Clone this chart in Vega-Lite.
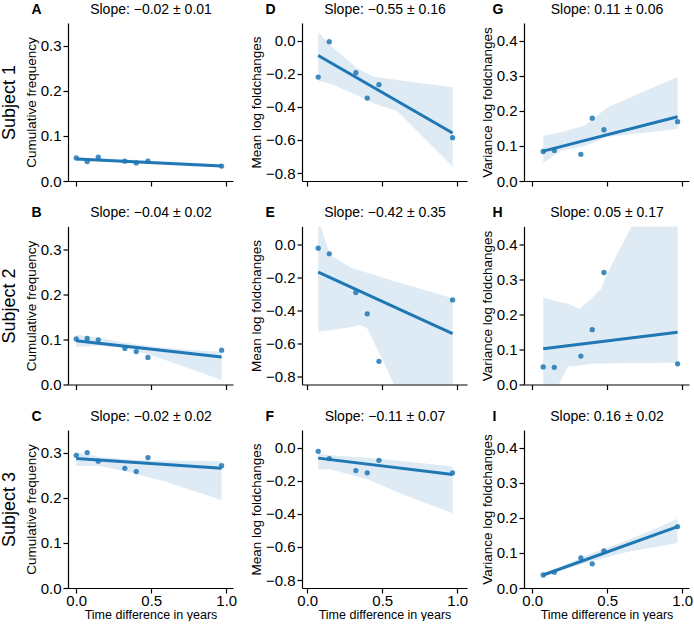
{
  "$schema": "https://vega.github.io/schema/vega-lite/v6.json",
  "padding": {"left": 0, "top": 2, "right": 0, "bottom": 0},
  "background": "white",
  "config": {
    "view": {"stroke": null},
    "font": "Liberation Sans",
    "axis": {"domainColor": "black", "domainWidth": 1.2, "tickColor": "black", "tickWidth": 1.2, "tickSize": 5, "labelFontSize": 15, "labelColor": "black", "labelPadding": 2, "titleFontSize": 12.5, "titleFontWeight": "normal", "titleColor": "black", "grid": false}
  },
  "datasets": {
    "pts": [
      {"p": "A", "x": 0, "y": 0.051}, {"p": "A", "x": 0.073, "y": 0.043}, {"p": "A", "x": 0.147, "y": 0.053}, {"p": "A", "x": 0.324, "y": 0.044}, {"p": "A", "x": 0.4, "y": 0.040}, {"p": "A", "x": 0.478, "y": 0.044}, {"p": "A", "x": 0.969, "y": 0.033},
      {"p": "B", "x": 0, "y": 0.101}, {"p": "B", "x": 0.073, "y": 0.102}, {"p": "B", "x": 0.147, "y": 0.099}, {"p": "B", "x": 0.324, "y": 0.080}, {"p": "B", "x": 0.4, "y": 0.073}, {"p": "B", "x": 0.478, "y": 0.060}, {"p": "B", "x": 0.969, "y": 0.076},
      {"p": "C", "x": 0, "y": 0.294}, {"p": "C", "x": 0.073, "y": 0.300}, {"p": "C", "x": 0.147, "y": 0.281}, {"p": "C", "x": 0.324, "y": 0.265}, {"p": "C", "x": 0.4, "y": 0.258}, {"p": "C", "x": 0.478, "y": 0.289}, {"p": "C", "x": 0.969, "y": 0.271},
      {"p": "D", "x": 0.073, "y": -0.220}, {"p": "D", "x": 0.147, "y": -0.006}, {"p": "D", "x": 0.324, "y": -0.193}, {"p": "D", "x": 0.4, "y": -0.347}, {"p": "D", "x": 0.478, "y": -0.266}, {"p": "D", "x": 0.969, "y": -0.586},
      {"p": "E", "x": 0.073, "y": -0.024}, {"p": "E", "x": 0.147, "y": -0.058}, {"p": "E", "x": 0.324, "y": -0.292}, {"p": "E", "x": 0.4, "y": -0.421}, {"p": "E", "x": 0.478, "y": -0.708}, {"p": "E", "x": 0.969, "y": -0.337},
      {"p": "F", "x": 0.073, "y": -0.022}, {"p": "F", "x": 0.147, "y": -0.066}, {"p": "F", "x": 0.324, "y": -0.138}, {"p": "F", "x": 0.4, "y": -0.152}, {"p": "F", "x": 0.478, "y": -0.076}, {"p": "F", "x": 0.969, "y": -0.152},
      {"p": "G", "x": 0.073, "y": 0.084}, {"p": "G", "x": 0.147, "y": 0.087}, {"p": "G", "x": 0.324, "y": 0.076}, {"p": "G", "x": 0.4, "y": 0.179}, {"p": "G", "x": 0.478, "y": 0.146}, {"p": "G", "x": 0.969, "y": 0.169},
      {"p": "H", "x": 0.073, "y": 0.050}, {"p": "H", "x": 0.147, "y": 0.049}, {"p": "H", "x": 0.324, "y": 0.081}, {"p": "H", "x": 0.4, "y": 0.156}, {"p": "H", "x": 0.478, "y": 0.319}, {"p": "H", "x": 0.969, "y": 0.059},
      {"p": "I", "x": 0.073, "y": 0.037}, {"p": "I", "x": 0.147, "y": 0.045}, {"p": "I", "x": 0.324, "y": 0.086}, {"p": "I", "x": 0.4, "y": 0.069}, {"p": "I", "x": 0.478, "y": 0.106}, {"p": "I", "x": 0.969, "y": 0.175}
    ],
    "line": [
      {"p": "A", "x": 0, "y": 0.049}, {"p": "A", "x": 0.969, "y": 0.033},
      {"p": "B", "x": 0, "y": 0.097}, {"p": "B", "x": 0.969, "y": 0.061},
      {"p": "C", "x": 0, "y": 0.287}, {"p": "C", "x": 0.969, "y": 0.265},
      {"p": "D", "x": 0.073, "y": -0.089}, {"p": "D", "x": 0.969, "y": -0.558},
      {"p": "E", "x": 0.073, "y": -0.169}, {"p": "E", "x": 0.969, "y": -0.540},
      {"p": "F", "x": 0.073, "y": -0.063}, {"p": "F", "x": 0.969, "y": -0.162},
      {"p": "G", "x": 0.073, "y": 0.085}, {"p": "G", "x": 0.969, "y": 0.183},
      {"p": "H", "x": 0.073, "y": 0.102}, {"p": "H", "x": 0.969, "y": 0.149},
      {"p": "I", "x": 0.073, "y": 0.037}, {"p": "I", "x": 0.969, "y": 0.175}
    ],
    "band": [
      {"p": "A", "x": 0, "lo": 0.046, "hi": 0.053}, {"p": "A", "x": 0.5, "lo": 0.040, "hi": 0.045}, {"p": "A", "x": 0.969, "lo": 0.030, "hi": 0.037},
      {"p": "B", "x": 0, "lo": 0.083, "hi": 0.110}, {"p": "B", "x": 0.156, "lo": 0.086, "hi": 0.103}, {"p": "B", "x": 0.333, "lo": 0.080, "hi": 0.092}, {"p": "B", "x": 0.489, "lo": 0.066, "hi": 0.085}, {"p": "B", "x": 0.7, "lo": 0.042, "hi": 0.078}, {"p": "B", "x": 0.969, "lo": 0.010, "hi": 0.072},
      {"p": "C", "x": 0, "lo": 0.270, "hi": 0.301}, {"p": "C", "x": 0.156, "lo": 0.270, "hi": 0.290}, {"p": "C", "x": 0.378, "lo": 0.255, "hi": 0.284}, {"p": "C", "x": 0.6, "lo": 0.235, "hi": 0.282}, {"p": "C", "x": 0.969, "lo": 0.195, "hi": 0.281},
      {"p": "D", "x": 0.073, "lo": -0.242, "hi": 0.052}, {"p": "D", "x": 0.175, "lo": -0.266, "hi": -0.044}, {"p": "D", "x": 0.33, "lo": -0.33, "hi": -0.165}, {"p": "D", "x": 0.444, "lo": -0.38, "hi": -0.218}, {"p": "D", "x": 0.6, "lo": -0.427, "hi": -0.237}, {"p": "D", "x": 0.969, "lo": -0.76, "hi": -0.282},
      {"p": "E", "x": 0.073, "lo": -0.528, "hi": 0.15}, {"p": "E", "x": 0.152, "lo": -0.52, "hi": -0.065}, {"p": "E", "x": 0.298, "lo": -0.50, "hi": -0.145}, {"p": "E", "x": 0.354, "lo": -0.488, "hi": -0.16}, {"p": "E", "x": 0.40, "lo": -0.51, "hi": -0.172}, {"p": "E", "x": 0.534, "lo": -0.76, "hi": -0.21}, {"p": "E", "x": 0.578, "lo": -0.85, "hi": -0.222}, {"p": "E", "x": 0.969, "lo": -1.5, "hi": -0.327},
      {"p": "F", "x": 0.073, "lo": -0.134, "hi": -0.034}, {"p": "F", "x": 0.153, "lo": -0.13, "hi": -0.045}, {"p": "F", "x": 0.40, "lo": -0.19, "hi": -0.06}, {"p": "F", "x": 0.63, "lo": -0.28, "hi": -0.08}, {"p": "F", "x": 0.969, "lo": -0.396, "hi": -0.114},
      {"p": "G", "x": 0.073, "lo": 0.051, "hi": 0.129}, {"p": "G", "x": 0.193, "lo": 0.086, "hi": 0.139}, {"p": "G", "x": 0.349, "lo": 0.10, "hi": 0.158}, {"p": "G", "x": 0.504, "lo": 0.126, "hi": 0.21}, {"p": "G", "x": 0.969, "lo": 0.148, "hi": 0.297},
      {"p": "H", "x": 0.073, "lo": -0.15, "hi": 0.248}, {"p": "H", "x": 0.17, "lo": -0.005, "hi": 0.236}, {"p": "H", "x": 0.238, "lo": 0.051, "hi": 0.23}, {"p": "H", "x": 0.316, "lo": 0.054, "hi": 0.216}, {"p": "H", "x": 0.393, "lo": 0.059, "hi": 0.244}, {"p": "H", "x": 0.46, "lo": 0.06, "hi": 0.273}, {"p": "H", "x": 0.504, "lo": 0.06, "hi": 0.32}, {"p": "H", "x": 0.66, "lo": 0.061, "hi": 0.449}, {"p": "H", "x": 0.969, "lo": 0.062, "hi": 0.75},
      {"p": "I", "x": 0.073, "lo": 0.031, "hi": 0.043}, {"p": "I", "x": 0.2, "lo": 0.052, "hi": 0.062}, {"p": "I", "x": 0.4, "lo": 0.076, "hi": 0.100}, {"p": "I", "x": 0.6, "lo": 0.10, "hi": 0.13}, {"p": "I", "x": 0.8, "lo": 0.115, "hi": 0.165}, {"p": "I", "x": 0.969, "lo": 0.128, "hi": 0.197}
    ]
  },
  "columns": 3,
  "align": "each",
  "spacing": {"row": 16.5, "column": 12},
  "concat": [
    {
      "width": 165, "height": 158,
      "resolve": {"axis": {"x": "independent", "y": "independent"}},
      "layer": [
        {"data": {"name": "band"}, "transform": [{"filter": "datum.p == 'A'"}],
         "mark": {"type": "area", "color": "#1f77b4", "opacity": 0.15, "clip": true},
         "encoding": {
           "x": {"field": "x", "type": "quantitative", "scale": {"domain": [-0.055, 1.045], "nice": false}, "axis": {"orient": "top", "title": "A", "domain": false, "ticks": false, "labels": false, "titleFontWeight": "bold", "titleFontSize": 14, "titleX": -37, "titleY": -10, "titleAlign": "left", "titleBaseline": "alphabetic", "titleAngle": 0}},
           "y": {"field": "lo", "type": "quantitative", "scale": {"domain": [0, 0.35], "nice": false}, "axis": {"orient": "left", "title": "Cumulative frequency", "values": [0, 0.1, 0.2, 0.3], "format": ".1f", "titlePadding": 2, "titleFontSize": 13.5}},
           "y2": {"field": "hi"}}},
        {"data": {"name": "line"}, "transform": [{"filter": "datum.p == 'A'"}],
         "mark": {"type": "line", "color": "#1f77b4", "strokeWidth": 3},
         "encoding": {
           "x": {"field": "x", "type": "quantitative", "axis": {"orient": "top", "title": "Slope: −0.02 ± 0.01", "domain": false, "ticks": false, "labels": false, "titleFontSize": 14, "titleX": 82.5, "titleY": -10, "titleAlign": "center", "titleBaseline": "alphabetic", "titleAngle": 0}},
           "y": {"field": "y", "type": "quantitative", "axis": {"orient": "left", "title": "Subject 1", "domain": false, "ticks": false, "labels": false, "titleFontSize": 18, "titleX": -54, "titleY": 79, "titleAngle": -90, "titleAlign": "center", "titleBaseline": "alphabetic"}}}},
        {"data": {"name": "pts"}, "transform": [{"filter": "datum.p == 'A'"}],
         "mark": {"type": "circle", "color": "#1f77b4", "opacity": 0.85, "size": 28},
         "encoding": {
           "x": {"field": "x", "type": "quantitative", "axis": {"orient": "bottom", "values": [0, 0.5, 1], "labels": false, "title": null}},
           "y": {"field": "y", "type": "quantitative", "axis": null}}}
      ]
    },
    {
      "width": 165, "height": 158,
      "resolve": {"axis": {"x": "independent", "y": "independent"}},
      "layer": [
        {"data": {"name": "band"}, "transform": [{"filter": "datum.p == 'D'"}],
         "mark": {"type": "area", "color": "#1f77b4", "opacity": 0.15, "clip": true},
         "encoding": {
           "x": {"field": "x", "type": "quantitative", "scale": {"domain": [-0.035, 1.065], "nice": false}, "axis": {"orient": "top", "title": "D", "domain": false, "ticks": false, "labels": false, "titleFontWeight": "bold", "titleFontSize": 14, "titleX": -37, "titleY": -10, "titleAlign": "left", "titleBaseline": "alphabetic", "titleAngle": 0}},
           "y": {"field": "lo", "type": "quantitative", "scale": {"domain": [-0.848, 0.107], "nice": false}, "axis": {"orient": "left", "title": "Mean log foldchanges", "values": [-0.8, -0.6, -0.4, -0.2, 0], "format": ".1f", "titlePadding": 2, "titleFontSize": 13.5}},
           "y2": {"field": "hi"}}},
        {"data": {"name": "line"}, "transform": [{"filter": "datum.p == 'D'"}],
         "mark": {"type": "line", "color": "#1f77b4", "strokeWidth": 3},
         "encoding": {
           "x": {"field": "x", "type": "quantitative", "axis": {"orient": "top", "title": "Slope: −0.55 ± 0.16", "domain": false, "ticks": false, "labels": false, "titleFontSize": 14, "titleX": 82.5, "titleY": -10, "titleAlign": "center", "titleBaseline": "alphabetic", "titleAngle": 0}},
           "y": {"field": "y", "type": "quantitative", "axis": null}}},
        {"data": {"name": "pts"}, "transform": [{"filter": "datum.p == 'D'"}],
         "mark": {"type": "circle", "color": "#1f77b4", "opacity": 0.85, "size": 28},
         "encoding": {
           "x": {"field": "x", "type": "quantitative", "axis": {"orient": "bottom", "values": [0, 0.5, 1], "labels": false, "title": null}},
           "y": {"field": "y", "type": "quantitative", "axis": null}}}
      ]
    },
    {
      "width": 165, "height": 158,
      "resolve": {"axis": {"x": "independent", "y": "independent"}},
      "layer": [
        {"data": {"name": "band"}, "transform": [{"filter": "datum.p == 'G'"}],
         "mark": {"type": "area", "color": "#1f77b4", "opacity": 0.15, "clip": true},
         "encoding": {
           "x": {"field": "x", "type": "quantitative", "scale": {"domain": [-0.055, 1.045], "nice": false}, "axis": {"orient": "top", "title": "G", "domain": false, "ticks": false, "labels": false, "titleFontWeight": "bold", "titleFontSize": 14, "titleX": -32, "titleY": -10, "titleAlign": "left", "titleBaseline": "alphabetic", "titleAngle": 0}},
           "y": {"field": "lo", "type": "quantitative", "scale": {"domain": [0, 0.45], "nice": false}, "axis": {"orient": "left", "title": "Variance log foldchanges", "values": [0, 0.1, 0.2, 0.3, 0.4], "format": ".1f", "titlePadding": 2, "titleFontSize": 13.5}},
           "y2": {"field": "hi"}}},
        {"data": {"name": "line"}, "transform": [{"filter": "datum.p == 'G'"}],
         "mark": {"type": "line", "color": "#1f77b4", "strokeWidth": 3},
         "encoding": {
           "x": {"field": "x", "type": "quantitative", "axis": {"orient": "top", "title": "Slope: 0.11 ± 0.06", "domain": false, "ticks": false, "labels": false, "titleFontSize": 14, "titleX": 82.5, "titleY": -10, "titleAlign": "center", "titleBaseline": "alphabetic", "titleAngle": 0}},
           "y": {"field": "y", "type": "quantitative", "axis": null}}},
        {"data": {"name": "pts"}, "transform": [{"filter": "datum.p == 'G'"}],
         "mark": {"type": "circle", "color": "#1f77b4", "opacity": 0.85, "size": 28},
         "encoding": {
           "x": {"field": "x", "type": "quantitative", "axis": {"orient": "bottom", "values": [0, 0.5, 1], "labels": false, "title": null}},
           "y": {"field": "y", "type": "quantitative", "axis": null}}}
      ]
    },
    {
      "width": 165, "height": 158,
      "resolve": {"axis": {"x": "independent", "y": "independent"}},
      "layer": [
        {"data": {"name": "band"}, "transform": [{"filter": "datum.p == 'B'"}],
         "mark": {"type": "area", "color": "#1f77b4", "opacity": 0.15, "clip": true},
         "encoding": {
           "x": {"field": "x", "type": "quantitative", "scale": {"domain": [-0.055, 1.045], "nice": false}, "axis": {"orient": "top", "title": "B", "domain": false, "ticks": false, "labels": false, "titleFontWeight": "bold", "titleFontSize": 14, "titleX": -37, "titleY": -10, "titleAlign": "left", "titleBaseline": "alphabetic", "titleAngle": 0}},
           "y": {"field": "lo", "type": "quantitative", "scale": {"domain": [0, 0.35], "nice": false}, "axis": {"orient": "left", "title": "Cumulative frequency", "values": [0, 0.1, 0.2, 0.3], "format": ".1f", "titlePadding": 2, "titleFontSize": 13.5}},
           "y2": {"field": "hi"}}},
        {"data": {"name": "line"}, "transform": [{"filter": "datum.p == 'B'"}],
         "mark": {"type": "line", "color": "#1f77b4", "strokeWidth": 3},
         "encoding": {
           "x": {"field": "x", "type": "quantitative", "axis": {"orient": "top", "title": "Slope: −0.04 ± 0.02", "domain": false, "ticks": false, "labels": false, "titleFontSize": 14, "titleX": 82.5, "titleY": -10, "titleAlign": "center", "titleBaseline": "alphabetic", "titleAngle": 0}},
           "y": {"field": "y", "type": "quantitative", "axis": {"orient": "left", "title": "Subject 2", "domain": false, "ticks": false, "labels": false, "titleFontSize": 18, "titleX": -54, "titleY": 79, "titleAngle": -90, "titleAlign": "center", "titleBaseline": "alphabetic"}}}},
        {"data": {"name": "pts"}, "transform": [{"filter": "datum.p == 'B'"}],
         "mark": {"type": "circle", "color": "#1f77b4", "opacity": 0.85, "size": 28},
         "encoding": {
           "x": {"field": "x", "type": "quantitative", "axis": {"orient": "bottom", "values": [0, 0.5, 1], "labels": false, "title": null}},
           "y": {"field": "y", "type": "quantitative", "axis": null}}}
      ]
    },
    {
      "width": 165, "height": 158,
      "resolve": {"axis": {"x": "independent", "y": "independent"}},
      "layer": [
        {"data": {"name": "band"}, "transform": [{"filter": "datum.p == 'E'"}],
         "mark": {"type": "area", "color": "#1f77b4", "opacity": 0.15, "clip": true},
         "encoding": {
           "x": {"field": "x", "type": "quantitative", "scale": {"domain": [-0.035, 1.065], "nice": false}, "axis": {"orient": "top", "title": "E", "domain": false, "ticks": false, "labels": false, "titleFontWeight": "bold", "titleFontSize": 14, "titleX": -37, "titleY": -10, "titleAlign": "left", "titleBaseline": "alphabetic", "titleAngle": 0}},
           "y": {"field": "lo", "type": "quantitative", "scale": {"domain": [-0.848, 0.107], "nice": false}, "axis": {"orient": "left", "title": "Mean log foldchanges", "values": [-0.8, -0.6, -0.4, -0.2, 0], "format": ".1f", "titlePadding": 2, "titleFontSize": 13.5}},
           "y2": {"field": "hi"}}},
        {"data": {"name": "line"}, "transform": [{"filter": "datum.p == 'E'"}],
         "mark": {"type": "line", "color": "#1f77b4", "strokeWidth": 3},
         "encoding": {
           "x": {"field": "x", "type": "quantitative", "axis": {"orient": "top", "title": "Slope: −0.42 ± 0.35", "domain": false, "ticks": false, "labels": false, "titleFontSize": 14, "titleX": 82.5, "titleY": -10, "titleAlign": "center", "titleBaseline": "alphabetic", "titleAngle": 0}},
           "y": {"field": "y", "type": "quantitative", "axis": null}}},
        {"data": {"name": "pts"}, "transform": [{"filter": "datum.p == 'E'"}],
         "mark": {"type": "circle", "color": "#1f77b4", "opacity": 0.85, "size": 28},
         "encoding": {
           "x": {"field": "x", "type": "quantitative", "axis": {"orient": "bottom", "values": [0, 0.5, 1], "labels": false, "title": null}},
           "y": {"field": "y", "type": "quantitative", "axis": null}}}
      ]
    },
    {
      "width": 165, "height": 158,
      "resolve": {"axis": {"x": "independent", "y": "independent"}},
      "layer": [
        {"data": {"name": "band"}, "transform": [{"filter": "datum.p == 'H'"}],
         "mark": {"type": "area", "color": "#1f77b4", "opacity": 0.15, "clip": true},
         "encoding": {
           "x": {"field": "x", "type": "quantitative", "scale": {"domain": [-0.055, 1.045], "nice": false}, "axis": {"orient": "top", "title": "H", "domain": false, "ticks": false, "labels": false, "titleFontWeight": "bold", "titleFontSize": 14, "titleX": -32, "titleY": -10, "titleAlign": "left", "titleBaseline": "alphabetic", "titleAngle": 0}},
           "y": {"field": "lo", "type": "quantitative", "scale": {"domain": [0, 0.45], "nice": false}, "axis": {"orient": "left", "title": "Variance log foldchanges", "values": [0, 0.1, 0.2, 0.3, 0.4], "format": ".1f", "titlePadding": 2, "titleFontSize": 13.5}},
           "y2": {"field": "hi"}}},
        {"data": {"name": "line"}, "transform": [{"filter": "datum.p == 'H'"}],
         "mark": {"type": "line", "color": "#1f77b4", "strokeWidth": 3},
         "encoding": {
           "x": {"field": "x", "type": "quantitative", "axis": {"orient": "top", "title": "Slope: 0.05 ± 0.17", "domain": false, "ticks": false, "labels": false, "titleFontSize": 14, "titleX": 82.5, "titleY": -10, "titleAlign": "center", "titleBaseline": "alphabetic", "titleAngle": 0}},
           "y": {"field": "y", "type": "quantitative", "axis": null}}},
        {"data": {"name": "pts"}, "transform": [{"filter": "datum.p == 'H'"}],
         "mark": {"type": "circle", "color": "#1f77b4", "opacity": 0.85, "size": 28},
         "encoding": {
           "x": {"field": "x", "type": "quantitative", "axis": {"orient": "bottom", "values": [0, 0.5, 1], "labels": false, "title": null}},
           "y": {"field": "y", "type": "quantitative", "axis": null}}}
      ]
    },
    {
      "width": 165, "height": 158,
      "resolve": {"axis": {"x": "independent", "y": "independent"}},
      "layer": [
        {"data": {"name": "band"}, "transform": [{"filter": "datum.p == 'C'"}],
         "mark": {"type": "area", "color": "#1f77b4", "opacity": 0.15, "clip": true},
         "encoding": {
           "x": {"field": "x", "type": "quantitative", "scale": {"domain": [-0.055, 1.045], "nice": false}, "axis": {"orient": "top", "title": "C", "domain": false, "ticks": false, "labels": false, "titleFontWeight": "bold", "titleFontSize": 14, "titleX": -37, "titleY": -10, "titleAlign": "left", "titleBaseline": "alphabetic", "titleAngle": 0}},
           "y": {"field": "lo", "type": "quantitative", "scale": {"domain": [0, 0.35], "nice": false}, "axis": {"orient": "left", "title": "Cumulative frequency", "values": [0, 0.1, 0.2, 0.3], "format": ".1f", "titlePadding": 2, "titleFontSize": 13.5}},
           "y2": {"field": "hi"}}},
        {"data": {"name": "line"}, "transform": [{"filter": "datum.p == 'C'"}],
         "mark": {"type": "line", "color": "#1f77b4", "strokeWidth": 3},
         "encoding": {
           "x": {"field": "x", "type": "quantitative", "axis": {"orient": "top", "title": "Slope: −0.02 ± 0.02", "domain": false, "ticks": false, "labels": false, "titleFontSize": 14, "titleX": 82.5, "titleY": -10, "titleAlign": "center", "titleBaseline": "alphabetic", "titleAngle": 0}},
           "y": {"field": "y", "type": "quantitative", "axis": {"orient": "left", "title": "Subject 3", "domain": false, "ticks": false, "labels": false, "titleFontSize": 18, "titleX": -54, "titleY": 79, "titleAngle": -90, "titleAlign": "center", "titleBaseline": "alphabetic"}}}},
        {"data": {"name": "pts"}, "transform": [{"filter": "datum.p == 'C'"}],
         "mark": {"type": "circle", "color": "#1f77b4", "opacity": 0.85, "size": 28},
         "encoding": {
           "x": {"field": "x", "type": "quantitative", "axis": {"orient": "bottom", "values": [0, 0.5, 1], "format": ".1f", "title": "Time difference in years", "labelPadding": 0, "titlePadding": 0}},
           "y": {"field": "y", "type": "quantitative", "axis": null}}}
      ]
    },
    {
      "width": 165, "height": 158,
      "resolve": {"axis": {"x": "independent", "y": "independent"}},
      "layer": [
        {"data": {"name": "band"}, "transform": [{"filter": "datum.p == 'F'"}],
         "mark": {"type": "area", "color": "#1f77b4", "opacity": 0.15, "clip": true},
         "encoding": {
           "x": {"field": "x", "type": "quantitative", "scale": {"domain": [-0.035, 1.065], "nice": false}, "axis": {"orient": "top", "title": "F", "domain": false, "ticks": false, "labels": false, "titleFontWeight": "bold", "titleFontSize": 14, "titleX": -37, "titleY": -10, "titleAlign": "left", "titleBaseline": "alphabetic", "titleAngle": 0}},
           "y": {"field": "lo", "type": "quantitative", "scale": {"domain": [-0.848, 0.107], "nice": false}, "axis": {"orient": "left", "title": "Mean log foldchanges", "values": [-0.8, -0.6, -0.4, -0.2, 0], "format": ".1f", "titlePadding": 2, "titleFontSize": 13.5}},
           "y2": {"field": "hi"}}},
        {"data": {"name": "line"}, "transform": [{"filter": "datum.p == 'F'"}],
         "mark": {"type": "line", "color": "#1f77b4", "strokeWidth": 3},
         "encoding": {
           "x": {"field": "x", "type": "quantitative", "axis": {"orient": "top", "title": "Slope: −0.11 ± 0.07", "domain": false, "ticks": false, "labels": false, "titleFontSize": 14, "titleX": 82.5, "titleY": -10, "titleAlign": "center", "titleBaseline": "alphabetic", "titleAngle": 0}},
           "y": {"field": "y", "type": "quantitative", "axis": null}}},
        {"data": {"name": "pts"}, "transform": [{"filter": "datum.p == 'F'"}],
         "mark": {"type": "circle", "color": "#1f77b4", "opacity": 0.85, "size": 28},
         "encoding": {
           "x": {"field": "x", "type": "quantitative", "axis": {"orient": "bottom", "values": [0, 0.5, 1], "format": ".1f", "title": "Time difference in years", "labelPadding": 0, "titlePadding": 0}},
           "y": {"field": "y", "type": "quantitative", "axis": null}}}
      ]
    },
    {
      "width": 165, "height": 158,
      "resolve": {"axis": {"x": "independent", "y": "independent"}},
      "layer": [
        {"data": {"name": "band"}, "transform": [{"filter": "datum.p == 'I'"}],
         "mark": {"type": "area", "color": "#1f77b4", "opacity": 0.15, "clip": true},
         "encoding": {
           "x": {"field": "x", "type": "quantitative", "scale": {"domain": [-0.055, 1.045], "nice": false}, "axis": {"orient": "top", "title": "I", "domain": false, "ticks": false, "labels": false, "titleFontWeight": "bold", "titleFontSize": 14, "titleX": -32, "titleY": -10, "titleAlign": "left", "titleBaseline": "alphabetic", "titleAngle": 0}},
           "y": {"field": "lo", "type": "quantitative", "scale": {"domain": [0, 0.45], "nice": false}, "axis": {"orient": "left", "title": "Variance log foldchanges", "values": [0, 0.1, 0.2, 0.3, 0.4], "format": ".1f", "titlePadding": 2, "titleFontSize": 13.5}},
           "y2": {"field": "hi"}}},
        {"data": {"name": "line"}, "transform": [{"filter": "datum.p == 'I'"}],
         "mark": {"type": "line", "color": "#1f77b4", "strokeWidth": 3},
         "encoding": {
           "x": {"field": "x", "type": "quantitative", "axis": {"orient": "top", "title": "Slope: 0.16 ± 0.02", "domain": false, "ticks": false, "labels": false, "titleFontSize": 14, "titleX": 82.5, "titleY": -10, "titleAlign": "center", "titleBaseline": "alphabetic", "titleAngle": 0}},
           "y": {"field": "y", "type": "quantitative", "axis": null}}},
        {"data": {"name": "pts"}, "transform": [{"filter": "datum.p == 'I'"}],
         "mark": {"type": "circle", "color": "#1f77b4", "opacity": 0.85, "size": 28},
         "encoding": {
           "x": {"field": "x", "type": "quantitative", "axis": {"orient": "bottom", "values": [0, 0.5, 1], "format": ".1f", "title": "Time difference in years", "labelPadding": 0, "titlePadding": 0}},
           "y": {"field": "y", "type": "quantitative", "axis": null}}}
      ]
    }
  ]
}
